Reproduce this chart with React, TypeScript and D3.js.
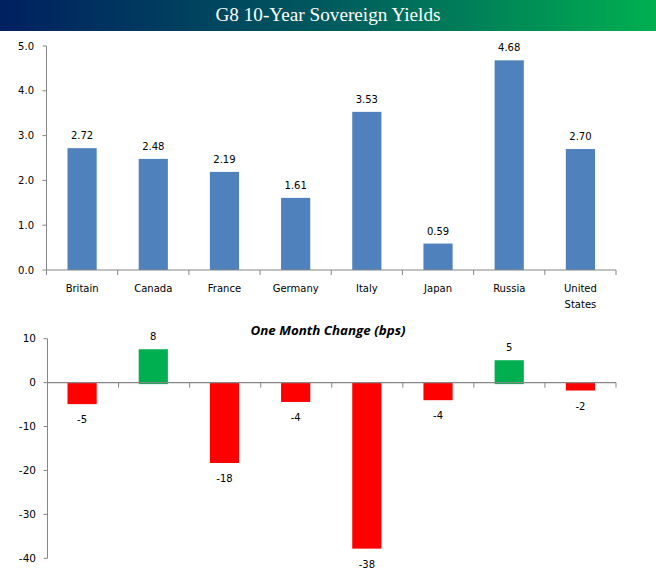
import * as d3 from "d3";
import React from "react";

const countries = ["Britain", "Canada", "France", "Germany", "Italy", "Japan", "Russia", "United States"];
const yields = [2.72, 2.48, 2.19, 1.61, 3.53, 0.59, 4.68, 2.7];
const changeBps = [-4.9, 7.6, -18.3, -4.4, -37.8, -4.0, 5.1, -1.8];
const changeLabels = ["-5", "8", "-18", "-4", "-38", "-4", "5", "-2"];
const yieldTicks = [0, 1, 2, 3, 4, 5];
const changeTicks = [10, 0, -10, -20, -30, -40];

const W = 656;
const H = 577;
const AXIS = "#868686";
const FONT = "'DejaVu Sans', Verdana, sans-serif";

const x = d3.scaleBand<string>().domain(countries).range([46.5, 616]).paddingInner(0.59).paddingOuter(0.295);
const step = x.step();
const yTop = d3.scaleLinear().domain([0, 5]).range([270, 46]);
const yBot = d3.scaleLinear().domain([-40, 10]).range([558.3, 338.7]);

const Header = () => (
  <g>
    <defs>
      <linearGradient id="hdr" x1="0" x2="1" y1="0" y2="0">
        <stop offset="0%" stopColor="#002060" />
        <stop offset="50%" stopColor="#005a5e" />
        <stop offset="100%" stopColor="#00b050" />
      </linearGradient>
    </defs>
    <rect x={0} y={0} width={W} height={31} fill="url(#hdr)" />
    <text x={328} y={21} textAnchor="middle" fill="#fff" fontFamily="'Liberation Serif', serif" fontSize={19} textLength={225} lengthAdjust="spacingAndGlyphs">
      G8 10-Year Sovereign Yields
    </text>
  </g>
);

const TopChart = () => {
  const x0 = 46.5;
  const ys = yTop(0);
  return (
    <g fontFamily={FONT} fontSize={10} fill="#000">
      {countries.map((c, i) => (
        <g key={c}>
          <rect x={x(c)} y={yTop(yields[i])} width={x.bandwidth()} height={ys - yTop(yields[i])} fill="#4f81bd" />
          <text x={x(c)! + x.bandwidth() / 2} y={yTop(yields[i]) - 9} textAnchor="middle">
            {yields[i].toFixed(2)}
          </text>
        </g>
      ))}
      <line x1={x0} x2={x0} y1={yTop(5)} y2={ys + 5} stroke={AXIS} />
      <line x1={x0} x2={616} y1={ys} y2={ys} stroke={AXIS} />
      {yieldTicks.map((t) => (
        <g key={t}>
          <line x1={x0 - 4} x2={x0} y1={yTop(t)} y2={yTop(t)} stroke={AXIS} />
          <text x={34} y={yTop(t) + 3.5} textAnchor="end">{t.toFixed(1)}</text>
        </g>
      ))}
      {countries.map((c, i) => (
        <line key={c} x1={x0 + step * (i + 1)} x2={x0 + step * (i + 1)} y1={ys} y2={ys + 5} stroke={AXIS} />
      ))}
      {countries.map((c) => {
        const lines = c === "United States" ? ["United", "States"] : [c];
        return (
          <text key={c} x={x(c)! + x.bandwidth() / 2} y={292} textAnchor="middle">
            {lines.map((l, j) => (
              <tspan key={l} x={x(c)! + x.bandwidth() / 2} dy={j === 0 ? 0 : 16}>{l}</tspan>
            ))}
          </text>
        );
      })}
    </g>
  );
};

const BottomChart = () => {
  const x0 = 47.5;
  const y0 = yBot(0);
  return (
    <g fontFamily={FONT} fontSize={10} fill="#000">
      <text x={328} y={335} textAnchor="middle" fontFamily="'Open Sans', sans-serif" fontStyle="italic" fontWeight={700} fontSize={12.5} textLength={155} lengthAdjust="spacingAndGlyphs">
        One Month Change (bps)
      </text>
      {countries.map((c, i) => {
        const v = changeBps[i];
        const top = v >= 0 ? yBot(v) : y0;
        const bot = v >= 0 ? y0 + 1.5 : yBot(v);
        const cx = x(c)! + x.bandwidth() / 2;
        return (
          <g key={c}>
            <rect x={x(c)} y={top} width={x.bandwidth()} height={bot - top} fill={v >= 0 ? "#00b050" : "#ff0000"} />
            <text x={cx} y={v >= 0 ? top - 9.5 : bot + 19} textAnchor="middle">{changeLabels[i]}</text>
          </g>
        );
      })}
      <line x1={x0} x2={x0} y1={yBot(10)} y2={yBot(-40)} stroke={AXIS} />
      {changeTicks.map((t) => (
        <g key={t}>
          <line x1={x0 - 4} x2={x0} y1={yBot(t)} y2={yBot(t)} stroke={AXIS} />
          <text x={36} y={yBot(t) + 3.5} textAnchor="end" fontSize={10.5}>{t}</text>
        </g>
      ))}
      <line x1={x0} x2={616} y1={y0} y2={y0} stroke={AXIS} strokeWidth={1.2} />
      {countries.map((c, i) => (
        <line key={c} x1={x0 + (616 - x0) / 8 * (i + 1)} x2={x0 + (616 - x0) / 8 * (i + 1)} y1={y0} y2={y0 + 5} stroke={AXIS} />
      ))}
    </g>
  );
};

export default function App() {
  return (
    <svg width={W} height={H} style={{ position: "absolute", left: 0, top: 0, background: "#fff" }}>
      <rect width={W} height={H} fill="#fff" />
      <Header />
      <TopChart />
      <BottomChart />
    </svg>
  );
}
